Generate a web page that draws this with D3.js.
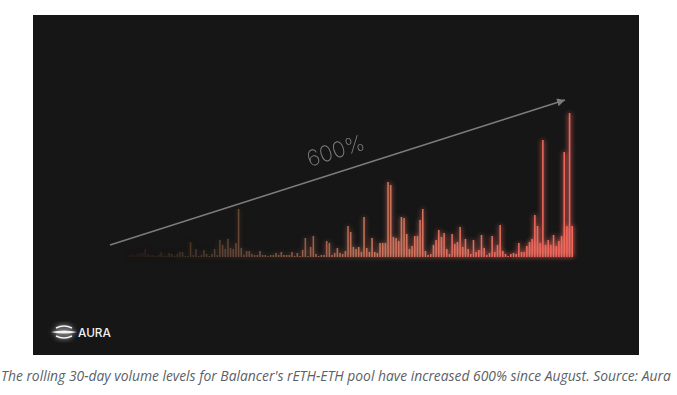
<!DOCTYPE html>
<html>
<head>
<meta charset="utf-8">
<script src="https://cdn.jsdelivr.net/npm/d3@7"></script>
<style>
  html, body { margin: 0; padding: 0; background: #fff; }
  svg { display: block; }
</style>
</head>
<body>
<div id="graph"></div>
<script>
var title = "600%";
var brand = "AURA";
var caption = "The rolling 30-day volume levels for Balancer's rETH-ETH pool have increased 600% since August. Source: Aura";

// daily volume (left to right)
var part1 = [2,3,2,3,4,4,8,3,2,2,1,2,5,1,1,4,3,1,3,5,5,1,1,15,2,8,1,2,7,3,1,3,8,2,17,12,8,18,9,8,14,48,9,2,6,6,3,2,2,6,2,2,1];
var part2 = [2,2,4,2,5,2,2,2,5,1,4,1,7,19,1,10,21,3,1,2,2,16,14,2,4,9,4,3,6,31,25,10,8,10,5,40,9,5,19,5,4,14,14,14,75,72,20,19,16,40,39,23,8,11,21,21,37,48,6,2,3];
var part3 = [12,17,27,20,24,8,3,23,13,15,30,10,18,8,3,17,5,7,22,9,2,4,21,5,12,32,6,3,1,3,4,3,14,5,5,11,15,18,42,31,14,117,12,17,12,22,11,16,21,105,31,144,31];
var volume = part1.concat(part2, part3);

var width = 677;
var height = 395;

var svg = d3.select("#graph")
  .append("svg")
  .attr("width", width)
  .attr("height", height);

var defs = svg.append("defs");
defs.append("filter").attr("id", "glow")
  .attr("x", "-10%").attr("y", "-10%").attr("width", "120%").attr("height", "120%")
  .append("feGaussianBlur").attr("stdDeviation", 2.4);
defs.append("filter").attr("id", "soft")
  .append("feGaussianBlur").attr("stdDeviation", 0.5);
defs.append("filter").attr("id", "logoGlow")
  .attr("x", "-40%").attr("y", "-40%").attr("width", "180%").attr("height", "180%")
  .append("feGaussianBlur").attr("stdDeviation", 2.5);
var marker = defs.append("marker")
  .attr("id", "head")
  .attr("viewBox", "0 0 10 10")
  .attr("refX", 10).attr("refY", 5)
  .attr("markerWidth", 8).attr("markerHeight", 8)
  .attr("markerUnits", "userSpaceOnUse")
  .attr("orient", "auto");
marker.append("path").attr("d", "M0,0L10,5L0,10Z").attr("fill", "#7c7c7c");

// dark panel
svg.append("rect")
  .attr("x", 33).attr("y", 15)
  .attr("width", 606).attr("height", 340)
  .attr("fill", "#161616");

var xScale = d3.scaleBand()
  .domain(d3.range(volume.length))
  .range([128.4, 573])
  .paddingInner(0.42);
var yScale = d3.scaleLinear()
  .domain([0, 144])
  .range([257, 113]);
var colorScale = d3.scaleLinear()
  .domain([0, volume.length * 0.25, volume.length * 0.55, volume.length * 0.8, volume.length - 1])
  .range(["#241c17", "#674838", "#c9745c", "#e66c5f", "#f0675c"]);

// glow behind the bars, stronger toward the right
var glow = svg.append("g").attr("filter", "url(#glow)");
glow.selectAll("rect")
  .data(volume)
  .enter().append("rect")
  .attr("x", function (d, i) { return xScale(i) - 0.5; })
  .attr("y", function (d) { return yScale(d); })
  .attr("width", xScale.bandwidth() + 1)
  .attr("height", function (d) { return yScale(0) - yScale(d); })
  .attr("fill", function (d, i) { return colorScale(i); })
  .attr("opacity", function (d, i) { return 0.25 + 0.6 * i / volume.length; });

var bars = svg.append("g").attr("filter", "url(#soft)");
bars.selectAll("rect")
  .data(volume)
  .enter().append("rect")
  .attr("x", function (d, i) { return xScale(i); })
  .attr("y", function (d) { return yScale(d); })
  .attr("width", xScale.bandwidth())
  .attr("height", function (d) { return yScale(0) - yScale(d); })
  .attr("fill", function (d, i) { return colorScale(i); });

// trend arrow
svg.append("line")
  .attr("x1", 110).attr("y1", 245)
  .attr("x2", 565).attr("y2", 100)
  .attr("stroke", "#7c7c7c")
  .attr("stroke-width", 1.4)
  .attr("marker-end", "url(#head)");

svg.append("text")
  .attr("transform", "translate(338,158) rotate(-17.6)")
  .attr("text-anchor", "middle")
  .attr("font-family", "Inter, Roboto, sans-serif")
  .attr("font-weight", 200)
  .attr("font-size", 22)
  .attr("fill", "#7e7e7e")
  .text(title);

// logo
var logo = svg.append("g").attr("transform", "translate(64,332)");
var logoGlow = logo.append("g").attr("filter", "url(#logoGlow)");
var logoMark = logo.append("g");
[logoGlow, logoMark].forEach(function (g) {
  g.append("path").attr("d", "M-8,-4Q0,-8 8,-4").attr("fill", "none").attr("stroke", "#f2f2f2").attr("stroke-width", 1.4);
  g.append("path").attr("d", "M-13,0Q0,-3 13,0Q0,3 -13,0Z").attr("fill", "#f2f2f2");
  g.append("path").attr("d", "M-8,4Q0,8 8,4").attr("fill", "none").attr("stroke", "#f2f2f2").attr("stroke-width", 1.4);
});
svg.append("text")
  .attr("x", 78).attr("y", 336.5)
  .attr("font-family", "Inter, Roboto, sans-serif")
  .attr("font-weight", 500)
  .attr("font-size", 11.8)
  .attr("fill", "#f0f0f0")
  .text(brand);

svg.append("text")
  .attr("x", 1).attr("y", 381)
  .attr("font-family", "'Open Sans', 'Noto Sans', sans-serif")
  .attr("font-style", "italic")
  .attr("font-size", 13.85)
  .attr("fill", "#5b5f66")
  .text(caption);
</script>
</body>
</html>
